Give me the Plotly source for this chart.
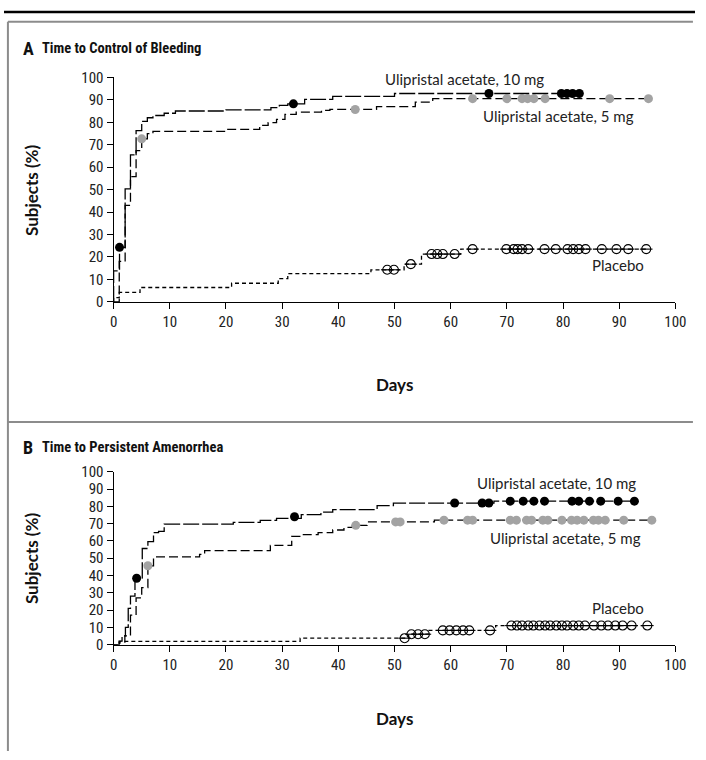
import plotly.graph_objects as go

# ---------------- Panel A: Time to Control of Bleeding ----------------
a10_days = [0, 0, 1.05, 2.05, 3.0, 4.0, 5.0, 6.0, 7.0, 9.0, 11.0, 20.0, 28.0, 29.5, 31.0, 34.0, 39.0, 50.0, 83.3]
a10_pct = [0, 13.8, 24.3, 50.3, 65.5, 76.3, 80.4, 82.0, 83.0, 84.0, 85.0, 85.5, 86.5, 87.5, 88.2, 90.2, 91.5, 92.8, 92.8]
a10_cens_days = [1.05, 32.0, 66.8, 79.7, 80.7, 81.7, 82.9]
a10_cens_pct = [24.3, 88.2, 92.8, 92.8, 92.8, 92.8, 92.8]

a5_days = [0, 1.0, 2.05, 3.0, 4.0, 5.0, 6.0, 7.0, 20.0, 26.0, 27.5, 29.0, 30.5, 32.5, 37.0, 38.5, 46.8, 53.7, 56.8, 95.2]
a5_pct = [0, 18.0, 43.0, 55.8, 67.4, 72.6, 74.9, 75.9, 76.8, 78.6, 79.8, 81.3, 83.5, 84.5, 85.3, 85.7, 87.0, 89.0, 90.5, 90.5]
a5_cens_days = [5.0, 43.0, 63.9, 70.0, 72.7, 73.7, 74.8, 76.8, 88.3, 95.2]
a5_cens_pct = [72.6, 85.7, 90.5, 90.5, 90.5, 90.5, 90.5, 90.5, 90.5, 90.5]

apl_days = [0, 0, 1.0, 4.7, 21.0, 29.3, 31.0, 45.8, 51.7, 54.8, 61.8, 94.8]
apl_pct = [0, 1.9, 4.2, 6.4, 8.3, 10.4, 12.6, 14.3, 16.8, 21.3, 23.5, 23.5]
apl_cens_days = [48.7, 49.9, 52.9, 56.6, 57.6, 58.6, 60.7, 63.9, 69.9, 71.2, 71.9, 72.7, 73.8,
                 76.7, 78.7, 80.8, 81.8, 82.8, 84.0, 86.9, 89.5, 91.6, 94.8]
apl_cens_pct = [14.3, 14.3, 16.8, 21.3, 21.3, 21.3, 21.3] + [23.5] * 16

# ---------------- Panel B: Time to Persistent Amenorrhea ----------------
b10_days = [0, 1.0, 1.5, 2.1, 2.6, 3.0, 3.8, 5.1, 6.1, 7.1, 8.0, 9.0, 21.3, 26.1, 29.0, 33.4, 36.9, 39.0, 46.9, 49.8, 67.7, 92.7]
b10_pct = [0, 2.0, 5.0, 10.0, 21.0, 28.0, 38.4, 55.6, 59.6, 64.8, 65.5, 69.7, 70.7, 71.9, 73.0, 75.2, 76.7, 78.1, 80.4, 81.9, 83.0, 83.0]
b10_cens_days = [4.1, 32.2, 60.7, 65.6, 66.8, 70.6, 72.9, 74.8, 76.7, 81.6, 82.8, 84.7, 86.7, 89.8, 92.7]
b10_cens_pct = [38.4, 74.0, 81.9, 81.9, 81.9] + [83.0] * 10

b5_days = [0, 1.0, 2.0, 3.0, 4.0, 5.0, 6.1, 7.1, 15.3, 16.2, 27.9, 31.7, 33.5, 36.4, 39.0, 41.0, 42.5, 45.1, 57.1, 95.8]
b5_pct = [0, 1.0, 5.0, 17.0, 27.0, 33.0, 45.6, 50.7, 52.2, 54.4, 57.4, 62.6, 63.6, 64.8, 66.3, 67.8, 69.0, 71.0, 72.0, 72.0]
b5_cens_days = [6.1, 43.1, 50.2, 51.0, 58.8, 63.0, 63.9, 70.6, 71.7, 73.5, 74.4, 76.4, 77.3,
                79.8, 81.5, 82.5, 83.7, 85.4, 86.3, 87.5, 90.8, 95.8]
b5_cens_pct = [45.6, 69.0, 71.0, 71.0] + [72.0] * 18

bpl_days = [0, 1.0, 33.2, 52.5, 56.0, 68.0, 95.0]
bpl_pct = [0, 1.9, 3.7, 6.0, 8.2, 11.0, 11.0]
bpl_cens_days = [51.8, 53.0, 54.2, 55.4, 58.6, 59.8, 61.0, 62.2, 63.3, 67.0,
                 70.8, 71.8, 72.7, 73.8, 74.7, 75.8, 76.8, 77.7, 78.8, 79.8, 80.7, 81.8, 82.8, 83.9,
                 85.5, 86.8, 88.0, 89.3, 90.6, 92.2, 95.0]
bpl_cens_pct = [3.7, 6.0, 6.0, 6.0, 8.2, 8.2, 8.2, 8.2, 8.2, 8.2] + [11.0] * 21

x_ticks = list(range(0, 101, 10))
y_ticks = list(range(0, 101, 10))

W, H = 706, 760
COND = "'Liberation Sans Narrow', 'Arial Narrow', 'Roboto Condensed', Lato, sans-serif"
HUM = "Lato, 'Open Sans', sans-serif"
GRAY = "#a3a3a3"
FRAME = "#8c8c8c"


def fx(p):
    return p / W


def fy(p):
    return 1 - p / H


fig = go.Figure()


def add_curve(days, pct, cd, cp, dash, mcolor, open_marker, xa, ya, lw=1.3):
    fig.add_trace(go.Scatter(x=days, y=pct, mode="lines", line=dict(shape="hv", color="black", width=lw, dash=dash),
                             xaxis=xa, yaxis=ya, showlegend=False, cliponaxis=False, hoverinfo="skip"))
    if open_marker:
        fig.add_trace(go.Scatter(x=cd, y=cp, mode="markers",
                                 marker=dict(symbol="circle-open", size=9, color="black", line=dict(width=1.1)),
                                 xaxis=xa, yaxis=ya, showlegend=False, cliponaxis=False))
        fig.add_trace(go.Scatter(x=cd, y=cp, mode="markers",
                                 marker=dict(symbol="line-ew-open", size=9, color="black", line=dict(width=1.1)),
                                 xaxis=xa, yaxis=ya, showlegend=False, cliponaxis=False))
    else:
        fig.add_trace(go.Scatter(x=cd, y=cp, mode="markers",
                                 marker=dict(symbol="circle", size=9, color=mcolor, line=dict(width=0)),
                                 xaxis=xa, yaxis=ya, showlegend=False, cliponaxis=False))


# Panel A
add_curve(apl_days, apl_pct, apl_cens_days, apl_cens_pct, "4px,3px", "black", True, "x", "y")
add_curve(a5_days, a5_pct, a5_cens_days, a5_cens_pct, "9px,4px", GRAY, False, "x", "y")
add_curve(a10_days, a10_pct, a10_cens_days, a10_cens_pct, "16px,3px", "black", False, "x", "y")
# Panel B
add_curve(bpl_days, bpl_pct, bpl_cens_days, bpl_cens_pct, "4px,3px", "black", True, "x2", "y2")
add_curve(b5_days, b5_pct, b5_cens_days, b5_cens_pct, "9px,4px", GRAY, False, "x2", "y2")
add_curve(b10_days, b10_pct, b10_cens_days, b10_cens_pct, "16px,3px", "black", False, "x2", "y2")

xdom = [fx(112), fx(686)]
ya_dom = [fy(300), fy(70)]
yb_dom = [fy(651), fy(474)]

axis_common = dict(range=[0, 100], showline=True, linecolor="black", linewidth=1.2, ticks="outside",
                   ticklen=6, tickwidth=1.2, tickcolor="black", showgrid=False, zeroline=False,
                   tickfont=dict(family=COND, size=15, color="#222"), fixedrange=True)

fig.update_layout(
    width=W, height=H, autosize=False,
    margin=dict(l=0, r=0, t=0, b=0),
    paper_bgcolor="white", plot_bgcolor="white",
    xaxis=dict(domain=xdom, anchor="y", tickvals=x_ticks, **axis_common),
    yaxis=dict(domain=ya_dom, anchor="x", tickvals=y_ticks, **axis_common),
    xaxis2=dict(domain=xdom, anchor="y2", tickvals=x_ticks, **axis_common),
    yaxis2=dict(domain=yb_dom, anchor="x2", tickvals=y_ticks, **axis_common),
)

shapes = [
    dict(type="line", xref="paper", yref="paper", x0=0, x1=1, y0=fy(3), y1=fy(3), line=dict(color="black", width=2.5)),
    dict(type="line", xref="paper", yref="paper", x0=fx(4), x1=0.997, y0=fy(13), y1=fy(13), line=dict(color=FRAME, width=2)),
    dict(type="line", xref="paper", yref="paper", x0=fx(4), x1=fx(4), y0=fy(13), y1=0, line=dict(color=FRAME, width=2)),
    dict(type="line", xref="paper", yref="paper", x0=fx(4), x1=0.997, y0=fy(423), y1=fy(423), line=dict(color=FRAME, width=2)),
]
fig.update_layout(shapes=shapes)

ann = []
def label(text, x, y, size=15, bold=False, xanchor="center", yanchor="middle", angle=0, family=COND):
    t = f"<b>{text}</b>" if bold else text
    ann.append(dict(text=t, x=x, y=y, xref="paper", yref="paper", showarrow=False, xanchor=xanchor,
                    yanchor=yanchor, textangle=angle, font=dict(family=family, size=size, color="#111")))

# titles
label("A", fx(17), fy(40), size=18, bold=True, xanchor="left")
label("Time to Control of Bleeding", fx(37), fy(40), size=14.5, bold=True, xanchor="left")
label("B", fx(17), fy(449), size=18, bold=True, xanchor="left")
label("Time to Persistent Amenorrhea", fx(37), fy(449), size=14.5, bold=True, xanchor="left")
# axis titles
label("Subjects (%)", fx(28), fy(185), size=17, bold=True, angle=-90, family=HUM)
label("Days", fx(399), fy(385), size=17, bold=True, family=HUM)
label("Subjects (%)", fx(28), fy(562), size=17, bold=True, angle=-90, family=HUM)
label("Days", fx(399), fy(727), size=17, bold=True, family=HUM)

# curve labels (data coordinates)
def curve_label(text, x, y, xa, ya, yshift):
    ann.append(dict(text=text, x=x, y=y, xref=xa, yref=ya, showarrow=False, yshift=yshift,
                    font=dict(family=HUM, size=15, color="#222")))

curve_label("Ulipristal acetate, 10 mg", 62.5, 92.8, "x", "y", 15)
curve_label("Ulipristal acetate, 5 mg", 79.2, 90.5, "x", "y", -17)
curve_label("Placebo", 89.7, 23.5, "x", "y", -16)
curve_label("Ulipristal acetate, 10 mg", 78.8, 83.0, "x2", "y2", 18)
curve_label("Ulipristal acetate, 5 mg", 80.5, 72.0, "x2", "y2", -18)
curve_label("Placebo", 89.7, 11.0, "x2", "y2", 18)

fig.update_layout(annotations=ann)
fig.write_html("out.html", config={"displayModeBar": False},
               post_script="document.body.style.margin='0';document.body.style.overflow='hidden';"
                           "document.documentElement.style.overflow='hidden';")
